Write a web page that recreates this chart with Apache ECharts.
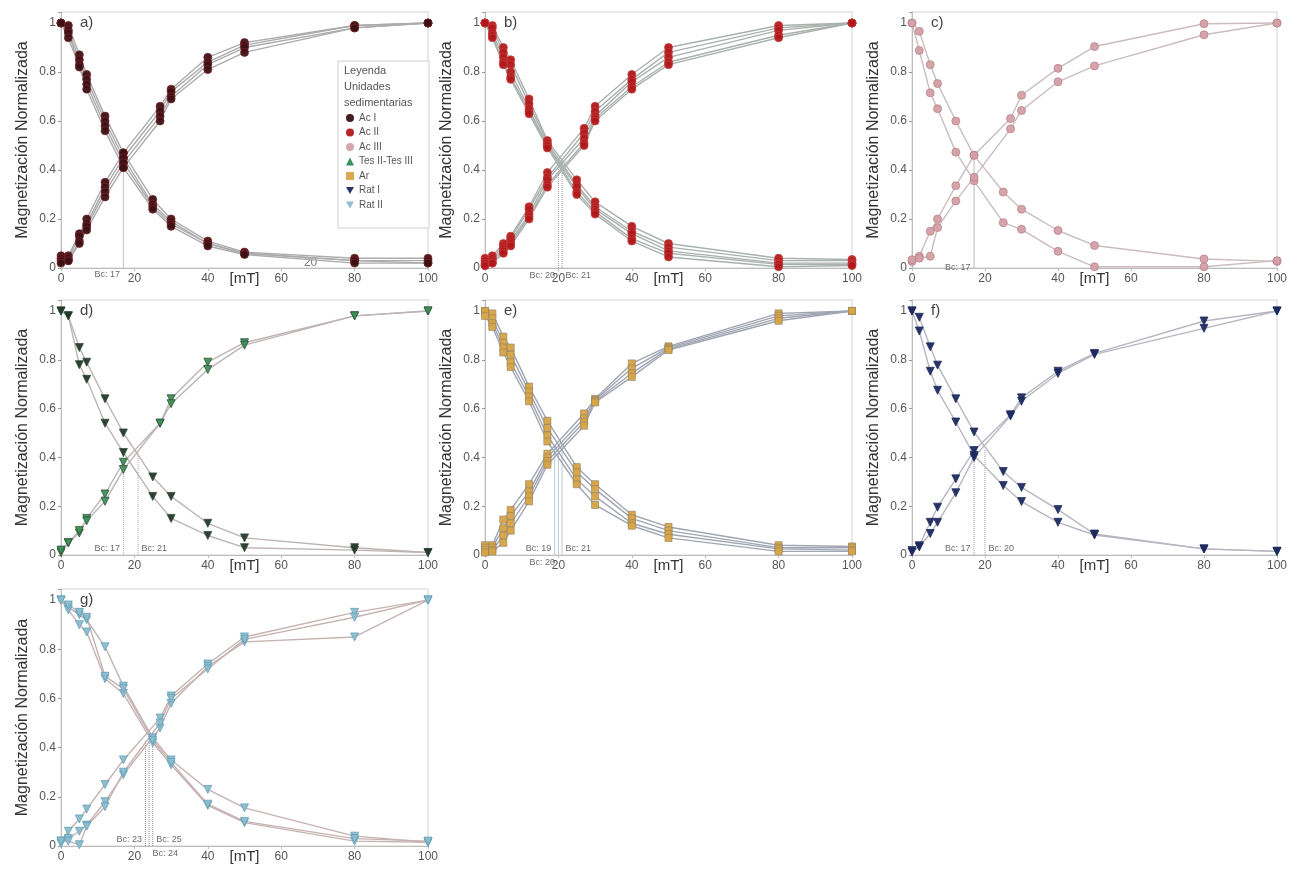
<!DOCTYPE html>
<html><head><meta charset="utf-8">
<script src="https://cdn.jsdelivr.net/npm/echarts@6/dist/echarts.min.js"></script>
<style>html,body{margin:0;padding:0;background:#fff}#c{width:1302px;height:870px}</style>
</head><body><div id="c"></div>
<script>
// ---------- DATA ----------
const FIELDS_AF  = [0, 2, 5, 7, 12, 17, 25, 30, 40, 50, 80, 100];   // AF demagnetization steps [mT]
const FIELDS_IRM = [0, 2, 5, 7, 12, 17, 27, 30, 40, 50, 80, 100];   // IRM acquisition steps [mT]
const X_TICKS = [0, 20, 40, 60, 80, 100];
const Y_TICKS = [0, 0.2, 0.4, 0.6, 0.8, 1];
const PANEL_LETTERS = ['a)', 'b)', 'c)', 'd)', 'e)', 'f)', 'g)'];
const UNITS = ['Ac I', 'Ac II', 'Ac III', 'Tes II-Tes III', 'Ar', 'Rat I', 'Rat II'];

// a) Ac I
const A_AF = [
  [1, 0.99, 0.87, 0.79, 0.62, 0.47, 0.28, 0.20, 0.11, 0.065, 0.04, 0.04],
  [1, 0.97, 0.85, 0.77, 0.60, 0.45, 0.26, 0.19, 0.10, 0.06, 0.03, 0.03],
  [1, 0.96, 0.83, 0.75, 0.58, 0.43, 0.25, 0.18, 0.10, 0.06, 0.03, 0.02],
  [1, 0.94, 0.82, 0.73, 0.56, 0.41, 0.24, 0.17, 0.09, 0.055, 0.02, 0.02]
];
const A_IRM = [
  [0.05, 0.05, 0.14, 0.20, 0.35, 0.47, 0.66, 0.73, 0.86, 0.92, 0.99, 1],
  [0.04, 0.04, 0.13, 0.18, 0.33, 0.45, 0.64, 0.72, 0.84, 0.91, 0.99, 1],
  [0.03, 0.03, 0.11, 0.17, 0.31, 0.43, 0.62, 0.70, 0.83, 0.90, 0.98, 1],
  [0.02, 0.03, 0.10, 0.155, 0.29, 0.41, 0.60, 0.69, 0.81, 0.88, 0.98, 1]
];
// b) Ac II
const B_AF = [
  [1, 0.99, 0.90, 0.85, 0.69, 0.52, 0.36, 0.27, 0.17, 0.10, 0.04, 0.035],
  [1, 0.98, 0.88, 0.83, 0.67, 0.51, 0.34, 0.25, 0.15, 0.085, 0.03, 0.03],
  [1, 0.96, 0.86, 0.80, 0.65, 0.50, 0.33, 0.24, 0.14, 0.07, 0.02, 0.02],
  [1, 0.95, 0.84, 0.78, 0.64, 0.50, 0.31, 0.23, 0.12, 0.06, 0.015, 0.015],
  [1, 0.94, 0.83, 0.77, 0.63, 0.49, 0.30, 0.22, 0.11, 0.045, 0.005, 0.01]
];
const B_IRM = [
  [0.04, 0.05, 0.10, 0.13, 0.25, 0.39, 0.57, 0.66, 0.79, 0.90, 0.99, 1],
  [0.03, 0.04, 0.09, 0.12, 0.24, 0.37, 0.55, 0.64, 0.77, 0.88, 0.98, 1],
  [0.02, 0.03, 0.08, 0.11, 0.22, 0.36, 0.53, 0.62, 0.76, 0.86, 0.97, 1],
  [0.01, 0.02, 0.07, 0.10, 0.21, 0.34, 0.51, 0.61, 0.74, 0.84, 0.95, 1],
  [0.01, 0.02, 0.06, 0.09, 0.20, 0.33, 0.50, 0.60, 0.73, 0.83, 0.94, 1]
];
// c) Ac III
const C_AF = [
  [1, 0.966, 0.83, 0.753, 0.60, 0.46, 0.31, 0.24, 0.153, 0.092, 0.037, 0.027],
  [1, 0.888, 0.715, 0.65, 0.473, 0.356, 0.185, 0.158, 0.068, 0.005, 0.005, 0.03]
];
const C_IRM = [
  [0.027, 0.048, 0.15, 0.20, 0.336, 0.46, 0.61, 0.705, 0.815, 0.904, 0.997, 1],
  [0.034, 0.04, 0.048, 0.165, 0.274, 0.37, 0.568, 0.643, 0.76, 0.825, 0.952, 1]
];
// d) Tes II-Tes III
const D_AF = [
  [1, 0.98, 0.85, 0.79, 0.64, 0.50, 0.32, 0.24, 0.13, 0.07, 0.03, 0.01],
  [1, 0.98, 0.78, 0.72, 0.54, 0.42, 0.24, 0.15, 0.08, 0.03, 0.02, 0.01]
];
const D_IRM = [
  [0.01, 0.05, 0.09, 0.15, 0.25, 0.38, 0.54, 0.64, 0.79, 0.87, 0.98, 1],
  [0.02, 0.05, 0.10, 0.14, 0.22, 0.35, 0.54, 0.62, 0.76, 0.86, 0.98, 1]
];
// e) Ar
const E_AF = [
  [1, 0.99, 0.895, 0.85, 0.69, 0.55, 0.36, 0.29, 0.165, 0.115, 0.04, 0.035],
  [1, 0.97, 0.87, 0.82, 0.67, 0.52, 0.34, 0.27, 0.15, 0.10, 0.03, 0.03],
  [1, 0.95, 0.85, 0.79, 0.65, 0.49, 0.31, 0.24, 0.13, 0.085, 0.025, 0.02],
  [0.98, 0.935, 0.83, 0.77, 0.63, 0.465, 0.29, 0.205, 0.12, 0.07, 0.015, 0.015]
];
const E_IRM = [
  [0.04, 0.04, 0.145, 0.185, 0.29, 0.415, 0.58, 0.64, 0.785, 0.855, 0.99, 1],
  [0.03, 0.03, 0.11, 0.16, 0.26, 0.40, 0.56, 0.635, 0.765, 0.85, 0.98, 1],
  [0.02, 0.02, 0.08, 0.13, 0.24, 0.385, 0.545, 0.63, 0.745, 0.845, 0.97, 1],
  [0.01, 0.015, 0.05, 0.10, 0.22, 0.37, 0.53, 0.625, 0.73, 0.84, 0.96, 1]
];
// f) Rat I
const F_AF = [
  [1, 0.974, 0.853, 0.778, 0.64, 0.504, 0.342, 0.277, 0.186, 0.086, 0.025, 0.015],
  [1, 0.918, 0.753, 0.675, 0.545, 0.408, 0.285, 0.219, 0.134, 0.082, 0.025, 0.015]
];
const F_IRM = [
  [0.018, 0.038, 0.134, 0.196, 0.312, 0.428, 0.575, 0.644, 0.753, 0.826, 0.959, 1],
  [0.012, 0.033, 0.088, 0.134, 0.255, 0.40, 0.57, 0.63, 0.744, 0.822, 0.929, 1]
];
// g) Rat II
const G_AF = [
  [1, 0.97, 0.94, 0.92, 0.81, 0.65, 0.44, 0.35, 0.23, 0.155, 0.04, 0.015],
  [1, 0.96, 0.90, 0.87, 0.68, 0.62, 0.42, 0.33, 0.165, 0.095, 0.02, 0.015],
  [1, 0.98, 0.95, 0.93, 0.69, 0.64, 0.43, 0.34, 0.17, 0.10, 0.03, 0.02]
];
const G_IRM = [
  [0.02, 0.06, 0.11, 0.15, 0.25, 0.35, 0.52, 0.61, 0.74, 0.85, 0.95, 1],
  [0.01, 0.03, 0.06, 0.085, 0.18, 0.29, 0.48, 0.58, 0.73, 0.83, 0.85, 1],
  [0.02, 0.02, 0.005, 0.08, 0.16, 0.30, 0.50, 0.60, 0.72, 0.84, 0.93, 1]
];
// coercive fields Bc [mT] and the magnetization at the crossover
const BC_A = [17];
const BC_B = [20, 21];
const BC_C = [17];
const BC_D = [17, 21];
const BC_E = [19, 20, 21];
const BC_F = [17, 20];
const BC_G = [23, 24, 25];
const BC_CROSS = [0.45, 0.44, 0.45, 0.42, 0.45, 0.43, 0.43];

// ---------- LAYOUT / STYLE ----------
const AF_SETS  = [A_AF, B_AF, C_AF, D_AF, E_AF, F_AF, G_AF];
const IRM_SETS = [A_IRM, B_IRM, C_IRM, D_IRM, E_IRM, F_IRM, G_IRM];
const BC_SETS  = [BC_A, BC_B, BC_C, BC_D, BC_E, BC_F, BC_G];
const GRIDS = [
  {left: 61,  top: 12,  width: 367, height: 256},
  {left: 485, top: 12,  width: 367, height: 256},
  {left: 912, top: 12,  width: 365, height: 256},
  {left: 61,  top: 300, width: 367, height: 255},
  {left: 485, top: 300, width: 367, height: 255},
  {left: 912, top: 300, width: 365, height: 255},
  {left: 61,  top: 589, width: 367, height: 257}
];
const YMAX = 1.045;
const STYLE = [
  {symbol: 'circle', rot: 0, size: 8, af: '#3a1114', irm: '#3a1114', border: '#7a2226', line: '#ababab'},
  {symbol: 'circle', rot: 0, size: 8, af: '#b0191c', irm: '#b0191c', border: '#c83a3a', line: '#a9b1ad'},
  {symbol: 'circle', rot: 0, size: 8, af: '#d3a0a6', irm: '#d3a0a6', border: '#b98088', line: '#cbbcbe'},
  {symbol: 'triangle', rot: 180, size: 8, af: '#26382b', irm: '#3d9156', border: '#2b4a34', line: '#bdb4b4'},
  {symbol: 'rect', rot: 0, size: 7, af: '#d9a443', irm: '#d9a443', border: '#9c8a66', line: '#a0a5b2'},
  {symbol: 'triangle', rot: 180, size: 8, af: '#1d2a5e', irm: '#1d2a5e', border: '#1d2a5e', line: '#b6b6c2'},
  {symbol: 'triangle', rot: 180, size: 8, af: '#8cbccd', irm: '#8cbccd', border: '#5e9fb6', line: '#c6b2b2'}
];
const BC_LINE = [
  {type: 'solid', color: '#c4c4c4'},
  {type: 'dotted', color: '#999'},
  {type: 'solid', color: '#bbb'},
  {type: 'dotted', color: '#aaa'},
  {type: 'solid', color: '#bccbd8'},
  {type: 'dotted', color: '#999'},
  {type: 'dotted', color: '#888'}
];
// label placement for each Bc value: side and vertical level (axis units)
const BC_LABEL_LAYOUT = [
  [['left', -0.027]],
  [['left', -0.03], ['right', -0.03]],
  [['left', 0.0]],
  [['left', 0.025], ['right', 0.025]],
  [['left', 0.025], ['left', -0.03], ['right', 0.025]],
  [['left', 0.025], ['right', 0.025]],
  [['left', 0.025], ['right', -0.03], ['right', 0.025]]
];

const FONT = 'Liberation Sans, Arial, sans-serif';
const fmtY = v => {
  const k = v * 5;
  if (Math.abs(k - Math.round(k)) > 1e-6) return '';
  return String(Math.round(k) / 5);
};

const grid = [], xAxis = [], yAxis = [], series = [], graphic = [];
GRIDS.forEach((g, p) => {
  grid.push(Object.assign({show: true, borderColor: '#d2d2d2', borderWidth: 1, backgroundColor: '#fff'}, g));
  xAxis.push({
    gridIndex: p, type: 'value', min: X_TICKS[0], max: X_TICKS[X_TICKS.length - 1], interval: X_TICKS[1] - X_TICKS[0],
    axisLine: {show: true, onZero: false, lineStyle: {color: '#bdbdbd'}},
    axisTick: {show: true, length: 3, lineStyle: {color: '#bdbdbd'}},
    axisLabel: {fontSize: 12, color: '#555', margin: 5, fontFamily: FONT},
    splitLine: {show: false}
  });
  yAxis.push({
    gridIndex: p, type: 'value', min: Y_TICKS[0], max: YMAX, interval: Y_TICKS[1] - Y_TICKS[0],
    name: 'Magnetización Normalizada', nameLocation: 'middle', nameGap: 30,
    nameTextStyle: {fontSize: 16, color: '#333', fontFamily: FONT},
    axisLine: {show: true, onZero: false, lineStyle: {color: '#bdbdbd'}},
    axisTick: {show: true, length: 3, lineStyle: {color: '#999'}},
    axisLabel: {fontSize: 12, color: '#555', margin: 5, formatter: fmtY, fontFamily: FONT},
    splitLine: {show: false}
  });
  const st = STYLE[p];
  const mk = (fields, vals, color) => ({
    type: 'line', name: UNITS[p], xAxisIndex: p, yAxisIndex: p,
    data: fields.map((f, i) => [f, vals[i]]),
    symbol: st.symbol, symbolRotate: st.rot, symbolSize: st.size,
    lineStyle: {color: st.line, width: 1.4},
    itemStyle: {color: color, borderColor: st.border, borderWidth: 0.8, opacity: 0.95},
    emphasis: {disabled: true}, z: 3, animation: false
  });
  AF_SETS[p].forEach(v => series.push(mk(FIELDS_AF, v, st.af)));
  IRM_SETS[p].forEach(v => series.push(mk(FIELDS_IRM, v, st.irm)));
  // Bc vertical lines
  BC_SETS[p].forEach(bc => series.push({
    type: 'line', name: 'Bc', xAxisIndex: p, yAxisIndex: p, symbol: 'none',
    data: [[bc, 0], [bc, BC_CROSS[p]]],
    lineStyle: {color: BC_LINE[p].color, type: BC_LINE[p].type, width: 1}, z: 2, animation: false, silent: true
  }));
  // Bc labels
  series.push({
    type: 'scatter', name: 'BcLabel', xAxisIndex: p, yAxisIndex: p, clip: false, silent: true,
    symbolSize: 1, itemStyle: {color: 'rgba(0,0,0,0)'}, z: 4, animation: false,
    data: BC_SETS[p].map((bc, i) => ({
      value: [bc, BC_LABEL_LAYOUT[p][i][1]],
      label: {show: true, position: BC_LABEL_LAYOUT[p][i][0], distance: 3, formatter: 'Bc: ' + bc,
              fontSize: 9, color: '#444', fontFamily: FONT}
    }))
  });
  // panel letter
  graphic.push({type: 'text', left: g.left + 19, top: g.top + 3,
    style: {text: PANEL_LETTERS[p], fontSize: 15, fill: '#444', fontFamily: FONT}, z: 10});
  // x-axis unit name, on the tick-label row
  graphic.push({type: 'text', x: g.left + g.width * 0.5, y: g.top + g.height + 11,
    style: {text: '[mT]', fontSize: 15, fill: '#333', fontFamily: FONT, align: 'center', verticalAlign: 'middle'}, z: 10});
});
// stray "20" annotation in panel a
series.push({
  type: 'scatter', name: 'note', xAxisIndex: 0, yAxisIndex: 0, symbolSize: 1, clip: false, silent: true,
  itemStyle: {color: 'rgba(0,0,0,0)'}, animation: false,
  data: [{value: [68, 0.022], label: {show: true, position: 'inside', formatter: '20', fontSize: 12, color: '#555', fontFamily: FONT}}]
});

// legend box in panel a
graphic.push({type: 'rect', shape: {x: 338, y: 61, width: 91, height: 167},
  style: {fill: '#fff', stroke: '#cfcfcf', lineWidth: 1}, z: 20});
['Leyenda', 'Unidades', 'sedimentarias'].forEach((t, i) => graphic.push({
  type: 'text', x: 344, y: 71 + i * 16,
  style: {text: t, fontSize: 11, fill: '#555', fontFamily: FONT, verticalAlign: 'middle'}, z: 21
}));

const DOWN_TRI = 'path://M0,0L10,0L5,9Z';
const LEGEND_ICONS = [
  {icon: 'circle', color: '#3a1114'},
  {icon: 'circle', color: '#b0191c'},
  {icon: 'circle', color: '#d3a0a6'},
  {icon: 'triangle', color: '#2e8b57'},
  {icon: 'rect', color: '#d9a443'},
  {icon: DOWN_TRI, color: '#1d2a5e'},
  {icon: DOWN_TRI, color: '#8cbccd'}
];

const chart = echarts.init(document.getElementById('c'), null, {renderer: 'canvas'});
chart.setOption({
  animation: false,
  backgroundColor: '#fff',
  textStyle: {fontFamily: FONT},
  grid, xAxis, yAxis, series, graphic,
  legend: {
    orient: 'vertical', left: 346, top: 113, z: 30, padding: 0,
    itemWidth: 8, itemHeight: 8, itemGap: 4.5, selectedMode: false,
    textStyle: {fontSize: 10, color: '#555', fontFamily: FONT},
    data: UNITS.map((u, i) => ({name: u, icon: LEGEND_ICONS[i].icon,
      itemStyle: {color: LEGEND_ICONS[i].color, borderWidth: 0}}))
  }
});
</script></body></html>
